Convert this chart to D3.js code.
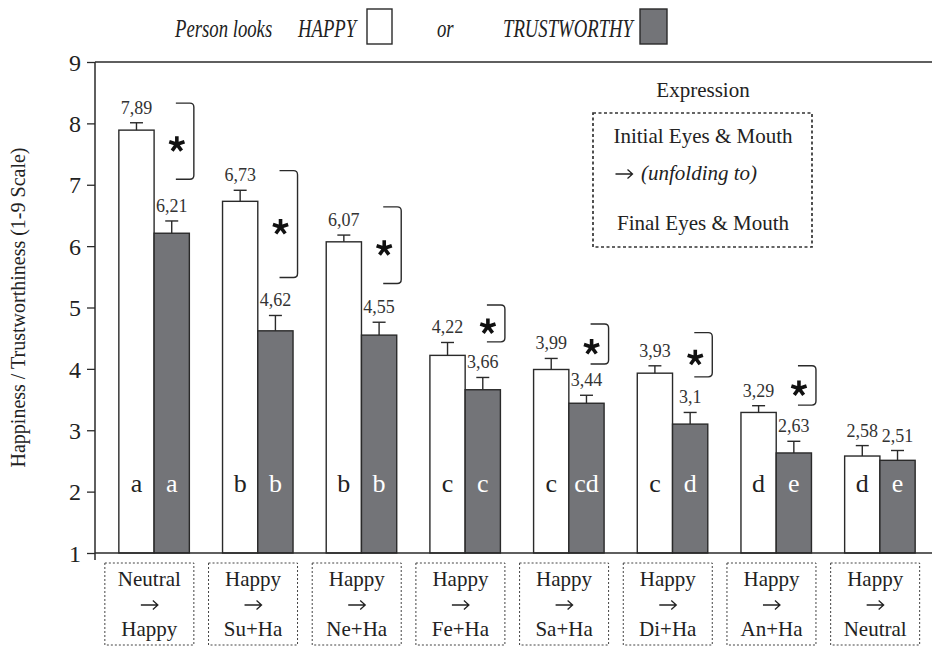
<!DOCTYPE html>
<html>
<head>
<meta charset="utf-8">
<script src="https://cdn.jsdelivr.net/npm/d3@7"></script>
<style>
  body { margin: 0; background: #fff; }
  svg { display: block; font-family: 'Liberation Serif', 'Times New Roman', serif; }
</style>
</head>
<body>
<div id="chart"></div>
<script>
const categories = [
  ['Neutral', 'Happy'], ['Happy', 'Su+Ha'], ['Happy', 'Ne+Ha'], ['Happy', 'Fe+Ha'],
  ['Happy', 'Sa+Ha'], ['Happy', 'Di+Ha'], ['Happy', 'An+Ha'], ['Happy', 'Neutral']
];
const happyValues = [7.89, 6.73, 6.07, 4.22, 3.99, 3.93, 3.29, 2.58];
const trustValues = [6.21, 4.62, 4.55, 3.66, 3.44, 3.1, 2.63, 2.51];
const happyErrors = [0.12, 0.18, 0.11, 0.21, 0.18, 0.12, 0.11, 0.17];
const trustErrors = [0.2, 0.25, 0.21, 0.2, 0.13, 0.19, 0.19, 0.16];
const happyLetters = ['a', 'b', 'b', 'c', 'c', 'c', 'd', 'd'];
const trustLetters = ['a', 'b', 'b', 'c', 'cd', 'd', 'e', 'e'];
// significance brackets (scale units), last pair has none
const bracketTop = [8.33, 7.23, 6.64, 5.04, 4.73, 4.59, 4.05];
const bracketBottom = [7.09, 5.49, 5.39, 4.44, 4.08, 3.87, 3.41];
const yTicks = [1, 2, 3, 4, 5, 6, 7, 8, 9];

const width = 932;
const height = 647;
const grey = '#737478';
const ink = '#2a2a2a';

const svg = d3.select('#chart')
  .append('svg')
  .attr('width', width)
  .attr('height', height);

const y = d3.scaleLinear()
  .domain([1, 9])
  .range([553, 62]);

const x = d3.scaleBand()
  .domain(d3.range(categories.length))
  .range([95, 939])
  .paddingInner(0.32)
  .paddingOuter(0.23);

const xSub = d3.scaleBand()
  .domain(['happy', 'trust'])
  .range([0, x.bandwidth()]);

const rows = categories.map((c, i) => [
  { i, key: 'happy', value: happyValues[i], err: happyErrors[i], letter: happyLetters[i] },
  { i, key: 'trust', value: trustValues[i], err: trustErrors[i], letter: trustLetters[i] }
]).flat();

const fmt = v => String(v).replace('.', ',');
const cx = d => x(d.i) + xSub(d.key) + xSub.bandwidth() / 2;

// five-armed asterisk as a custom symbol
const asterisk = {
  draw(context, size) {
    const r = Math.sqrt(size) / 2;
    for (let k = 0; k < 5; k++) {
      const a = -Math.PI / 2 + k * 2 * Math.PI / 5;
      context.moveTo(0, 0);
      context.lineTo(r * Math.cos(a), r * Math.sin(a));
    }
  }
};

// thin right arrow, centred on (0,0)
const arrowPath = 'M-8.5,0H8.5M3.5,-4.5L8.5,0L3.5,4.5';

// axes
const yAxis = svg.append('g')
  .attr('transform', 'translate(95,0)')
  .call(d3.axisLeft(y).tickValues(yTicks).tickSize(8).tickSizeOuter(0).tickPadding(6));

yAxis.select('.domain')
  .attr('stroke', ink)
  .attr('stroke-width', 1.5)
  .attr('d', `M0,${y(9)}V${y(1) + 7}`);

yAxis.selectAll('.tick line')
  .attr('stroke', ink)
  .attr('stroke-width', 1.3);

yAxis.selectAll('.tick text')
  .attr('fill', '#222')
  .attr('dy', '0.34em')
  .style('font-size', '24px')
  .style('font-family', "'Liberation Serif', serif");

svg.append('line')
  .attr('x1', 95).attr('x2', width)
  .attr('y1', y(9)).attr('y2', y(9))
  .attr('stroke', ink)
  .attr('stroke-width', 1.3);

svg.append('text')
  .attr('transform', `translate(25,${(y(1) + y(9)) / 2}) rotate(-90)`)
  .attr('text-anchor', 'middle')
  .attr('fill', '#222')
  .style('font-size', '20px')
  .text('Happiness / Trustworthiness (1-9 Scale)');

// bars
svg.append('g')
  .selectAll('rect')
  .data(rows)
  .enter()
    .append('rect')
    .attr('x', d => x(d.i) + xSub(d.key))
    .attr('y', d => y(d.value))
    .attr('width', xSub.bandwidth())
    .attr('height', d => y(1) - y(d.value))
    .attr('fill', d => d.key === 'happy' ? '#fff' : grey)
    .attr('stroke', ink)
    .attr('stroke-width', 1.4);

svg.append('line')
  .attr('x1', 95).attr('x2', width)
  .attr('y1', y(1)).attr('y2', y(1))
  .attr('stroke', ink)
  .attr('stroke-width', 1.6);

// error bars
const errs = svg.append('g')
  .attr('stroke', ink)
  .attr('stroke-width', 1.4)
  .selectAll('g')
  .data(rows)
  .enter()
    .append('g');

errs.append('line')
  .attr('x1', cx).attr('x2', cx)
  .attr('y1', d => y(d.value))
  .attr('y2', d => y(d.value + d.err));

errs.append('line')
  .attr('x1', d => cx(d) - 6.5).attr('x2', d => cx(d) + 6.5)
  .attr('y1', d => y(d.value + d.err))
  .attr('y2', d => y(d.value + d.err));

// value labels
svg.append('g')
  .selectAll('text')
  .data(rows)
  .enter()
    .append('text')
    .attr('x', cx)
    .attr('y', d => y(d.value + d.err) - 9)
    .attr('text-anchor', 'middle')
    .attr('fill', '#333')
    .style('font-size', '18px')
    .text(d => fmt(d.value));

// group letters
svg.append('g')
  .selectAll('text')
  .data(rows)
  .enter()
    .append('text')
    .attr('x', cx)
    .attr('y', y(2))
    .attr('text-anchor', 'middle')
    .attr('fill', d => d.key === 'happy' ? '#222' : '#fff')
    .style('font-size', '26px')
    .text(d => d.letter);

// brackets with asterisks
const brackets = svg.append('g')
  .selectAll('g')
  .data(bracketTop.map((t, i) => ({ i, top: t, bottom: bracketBottom[i] })))
  .enter()
    .append('g');

brackets.append('path')
  .attr('fill', 'none')
  .attr('stroke', ink)
  .attr('stroke-width', 1.4)
  .attr('d', d => {
    const xr = x(d.i) + 75;
    const xl = xr - 18;
    const t = y(d.top);
    const b = y(d.bottom);
    const r = 4;
    return `M${xl},${t}H${xr - r}Q${xr},${t} ${xr},${t + r}V${b - r}Q${xr},${b} ${xr - r},${b}H${xl}`;
  });

brackets.append('path')
  .attr('transform', d => `translate(${x(d.i) + 58},${(y(d.top) + y(d.bottom)) / 2 + 3})`)
  .attr('d', d3.symbol(asterisk, 256))
  .attr('fill', 'none')
  .attr('stroke', '#111')
  .attr('stroke-width', 3.6);

// category boxes
const boxes = svg.append('g')
  .selectAll('g')
  .data(categories.map((c, i) => ({ i, from: c[0], to: c[1] })))
  .enter()
    .append('g')
    .attr('transform', d => `translate(${x(d.i) - 14},563)`);

boxes.append('rect')
  .attr('width', 89)
  .attr('height', 82)
  .attr('fill', 'none')
  .attr('stroke', '#444')
  .attr('stroke-width', 1)
  .attr('stroke-dasharray', '2,2');

const boxText = boxes.append('text')
  .attr('text-anchor', 'middle')
  .attr('fill', '#222')
  .style('font-size', '21px');

boxText.append('tspan').attr('x', 44.5).attr('y', 23).text(d => d.from);
boxText.append('tspan').attr('x', 44.5).attr('y', 73).text(d => d.to);

boxes.append('path')
  .attr('transform', 'translate(44.5,42)')
  .attr('d', arrowPath)
  .attr('fill', 'none')
  .attr('stroke', '#222')
  .attr('stroke-width', 1.3);

// expression key
const key = svg.append('g')
  .attr('fill', '#222')
  .style('font-size', '21px');

key.append('text')
  .attr('x', 703).attr('y', 97)
  .attr('text-anchor', 'middle')
  .text('Expression');

key.append('rect')
  .attr('x', 593).attr('y', 113)
  .attr('width', 219).attr('height', 134)
  .attr('fill', 'none')
  .attr('stroke', '#333')
  .attr('stroke-width', 1.7)
  .attr('stroke-dasharray', '3,2.5');

key.append('text')
  .attr('x', 703).attr('y', 143)
  .attr('text-anchor', 'middle')
  .text('Initial Eyes & Mouth');

key.append('path')
  .attr('transform', 'translate(624,174)')
  .attr('d', arrowPath)
  .attr('fill', 'none')
  .attr('stroke', '#222')
  .attr('stroke-width', 1.3);

key.append('text')
  .attr('x', 641).attr('y', 180)
  .style('font-style', 'italic')
  .text('(unfolding to)');

key.append('text')
  .attr('x', 703).attr('y', 230)
  .attr('text-anchor', 'middle')
  .text('Final Eyes & Mouth');

// legend
const legendItems = [
  { label: 'Person looks', x: 175 },
  { label: 'HAPPY', x: 298 },
  { label: 'or', x: 437 },
  { label: 'TRUSTWORTHY', x: 503 }
];

svg.append('g')
  .selectAll('text')
  .data(legendItems)
  .enter()
    .append('text')
    .attr('transform', d => `translate(${d.x},37) scale(0.72,1)`)
    .attr('fill', '#222')
    .style('font-style', 'italic')
    .style('font-size', '26px')
    .text(d => d.label);

svg.append('rect')
  .attr('x', 367).attr('y', 9)
  .attr('width', 25).attr('height', 35)
  .attr('fill', '#fff')
  .attr('stroke', ink)
  .attr('stroke-width', 1.4);

svg.append('rect')
  .attr('x', 640).attr('y', 9)
  .attr('width', 27).attr('height', 35)
  .attr('fill', grey)
  .attr('stroke', ink)
  .attr('stroke-width', 1.4);
</script>
</body>
</html>
